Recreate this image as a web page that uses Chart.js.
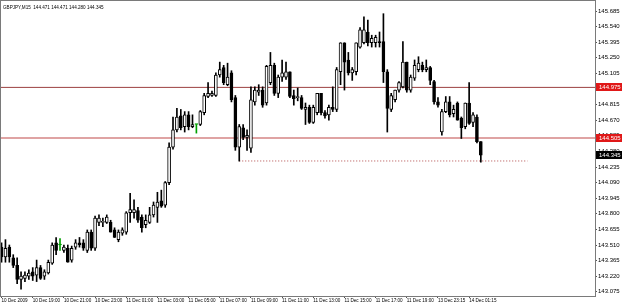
<!DOCTYPE html>
<html>
<head>
<meta charset="utf-8">
<script src="https://cdn.jsdelivr.net/npm/chart.js@4.4.0/dist/chart.umd.min.js"></script>
<style>
html, body { margin: 0; padding: 0; background: #fff; }
</style>
</head>
<body>
<canvas id="chart" width="625" height="305"></canvas>
<script>
// GBPJPY M15 candles (oldest first)
const symbolTitle = 'GBPJPY,M15  144.471 144.471 144.280 144.345';

const opens = [
  143.49, 143.40, 143.49, 143.39, 143.32, 143.19, 143.20, 143.22, 143.26, 143.23,
  143.30, 143.22, 143.25, 143.34, 143.53, 143.51, 143.46, 143.48, 143.37, 143.49,
  143.53, 143.53, 143.46, 143.63, 143.48, 143.72, 143.72, 143.72, 143.72, 143.65,
  143.56, 143.62, 143.63, 143.81, 143.81, 143.83, 143.77, 143.70, 143.72, 143.79,
  143.86, 143.92, 143.88, 144.09, 144.42, 144.58, 144.71, 144.61, 144.72, 144.61,
  144.63, 144.63, 144.74, 144.89, 144.90, 144.90, 145.09, 145.16, 145.00, 145.11,
  144.88, 144.42, 144.60, 144.51, 144.41, 144.84, 144.93, 144.95, 144.83, 145.02,
  145.18, 144.92, 145.07, 145.07, 145.12, 144.90, 144.88, 144.88, 144.77, 144.79,
  144.65, 144.74, 144.92, 144.74, 144.72, 144.79, 144.77, 145.12, 145.39, 145.23,
  145.11, 145.12, 145.35, 145.39, 145.49, 145.39, 145.39, 145.40, 145.40, 145.12,
  144.77, 144.86, 144.95, 144.98, 145.21, 144.95, 145.06, 145.14, 145.18, 145.14,
  145.16, 145.03, 144.84, 144.56, 144.75, 144.84, 144.73, 144.83, 144.69, 144.61,
  144.83, 144.65, 144.70, 144.471
];
const highs = [
  143.53, 143.56, 143.51, 143.42, 143.39, 143.26, 143.26, 143.28, 143.30, 143.37,
  143.32, 143.28, 143.37, 143.53, 143.58, 143.57, 143.51, 143.51, 143.50, 143.56,
  143.58, 143.56, 143.65, 143.65, 143.78, 143.79, 143.76, 143.79, 143.74, 143.67,
  143.65, 143.67, 143.82, 143.99, 143.93, 143.86, 143.79, 143.79, 143.86, 143.91,
  144.00, 144.02, 144.10, 144.46, 144.70, 144.78, 144.77, 144.75, 144.75, 144.72,
  144.63, 144.76, 144.92, 145.02, 144.94, 145.11, 145.21, 145.18, 145.20, 145.13,
  144.90, 144.63, 144.63, 144.58, 144.98, 144.98, 145.00, 144.98, 145.18, 145.30,
  145.20, 145.09, 145.23, 145.21, 145.12, 144.95, 144.97, 144.90, 144.83, 144.81,
  144.81, 144.92, 144.92, 144.76, 144.81, 144.98, 145.16, 145.39, 145.39, 145.30,
  145.16, 145.39, 145.53, 145.63, 145.60, 145.46, 145.46, 145.49, 145.66, 145.14,
  144.92, 144.95, 145.03, 145.40, 145.21, 145.09, 145.23, 145.26, 145.21, 145.23,
  145.17, 145.04, 144.88, 144.77, 144.89, 144.89, 144.81, 144.84, 144.70, 144.83,
  145.02, 144.74, 144.72, 144.471
];
const lows = [
  143.35, 143.35, 143.35, 143.30, 143.15, 143.10, 143.17, 143.19, 143.18, 143.17,
  143.19, 143.19, 143.24, 143.33, 143.42, 143.46, 143.44, 143.35, 143.35, 143.47,
  143.49, 143.46, 143.44, 143.46, 143.46, 143.69, 143.68, 143.71, 143.63, 143.58,
  143.54, 143.60, 143.61, 143.72, 143.76, 143.72, 143.63, 143.67, 143.71, 143.77,
  143.72, 143.86, 143.86, 144.07, 144.40, 144.56, 144.58, 144.56, 144.58, 144.60,
  144.55, 144.62, 144.72, 144.88, 144.89, 144.89, 145.07, 145.00, 144.99, 144.84,
  144.39, 144.29, 144.49, 144.39, 144.37, 144.81, 144.90, 144.79, 144.81, 145.00,
  144.90, 144.88, 145.03, 145.05, 144.88, 144.81, 144.85, 144.77, 144.63, 144.64,
  144.64, 144.72, 144.72, 144.69, 144.67, 144.75, 144.75, 145.00, 144.95, 145.09,
  145.04, 145.09, 145.34, 145.38, 145.36, 145.35, 145.35, 145.35, 145.02, 144.56,
  144.75, 144.84, 144.93, 144.97, 144.93, 144.93, 145.04, 145.12, 145.12, 145.12,
  145.00, 144.82, 144.79, 144.53, 144.74, 144.70, 144.70, 144.67, 144.50, 144.59,
  144.63, 144.61, 144.46, 144.280
];
const closes = [
  143.40, 143.48, 143.40, 143.32, 143.19, 143.22, 143.23, 143.25, 143.22, 143.30,
  143.20, 143.26, 143.35, 143.51, 143.46, 143.51, 143.49, 143.35, 143.48, 143.53,
  143.51, 143.48, 143.63, 143.48, 143.76, 143.76, 143.73, 143.77, 143.63, 143.58,
  143.63, 143.65, 143.81, 143.84, 143.84, 143.74, 143.67, 143.74, 143.79, 143.88,
  143.91, 143.87, 144.09, 144.42, 144.58, 144.70, 144.60, 144.72, 144.61, 144.63,
  144.63, 144.75, 144.90, 144.92, 144.92, 145.09, 145.14, 145.02, 145.07, 144.86,
  144.42, 144.61, 144.51, 144.53, 144.86, 144.95, 144.95, 144.81, 145.17, 145.18,
  144.92, 145.07, 145.11, 145.12, 144.89, 144.87, 144.89, 144.78, 144.79, 144.65,
  144.79, 144.92, 144.74, 144.71, 144.79, 144.77, 145.14, 145.39, 145.21, 145.11,
  145.14, 145.39, 145.51, 145.51, 145.39, 145.43, 145.44, 145.39, 145.12, 144.78,
  144.90, 144.95, 145.02, 145.21, 144.95, 145.07, 145.18, 145.20, 145.14, 145.16,
  145.04, 144.84, 144.81, 144.75, 144.84, 144.72, 144.77, 144.67, 144.60, 144.83,
  144.64, 144.72, 144.47, 144.345
];

// time axis labels, one every 8 bars
const timeTicks = [
  '10 Dec 2009', '10 Dec 19:00', '10 Dec 21:00', '10 Dec 23:00', '11 Dec 01:00',
  '11 Dec 03:00', '11 Dec 05:00', '11 Dec 07:00', '11 Dec 09:00', '11 Dec 11:00',
  '11 Dec 13:00', '11 Dec 15:00', '11 Dec 17:00', '11 Dec 19:00', '13 Dec 23:15',
  '14 Dec 01:15'
];
const priceTicks = [
  145.685, 145.540, 145.395, 145.250, 145.105, 144.960, 144.815, 144.670, 144.525,
  144.380, 144.235, 144.090, 143.945, 143.800, 143.655, 143.510, 143.365, 143.220,
  143.075
];

// horizontal levels
const upperLevel = 144.975;
const lowerLevel = 144.505;
const swingLow = 144.291;     // dotted line from bar 61
const swingLowStart = 61;
const swingLowEnd = 135;
const lastPrice = 144.345;

const bodies = opens.map((o, i) => ({ x: i, y: [o, closes[i]] }));
const wicks = lows.map((l, i) => ({ x: i, y: [l, highs[i]] }));
const bodyFill = opens.map((o, i) => closes[i] > o ? '#ffffff' : (closes[i] === o ? '#00a000' : '#000000'));
const candleLine = opens.map((o, i) => closes[i] === o ? '#00a000' : '#000000');

const mtOverlay = {
  id: 'mtOverlay',
  afterDraw(chart) {
    const { ctx, chartArea: a, scales: { y } } = chart;
    ctx.save();
    // frame
    ctx.strokeStyle = '#7a7a7a';
    ctx.lineWidth = 1;
    ctx.strokeRect(a.left + 0.5, 0.5, a.right - a.left, a.bottom);
    // symbol line
    ctx.fillStyle = '#000';
    ctx.font = '4.6px "Liberation Sans"';
    ctx.textBaseline = 'middle';
    ctx.fillText(symbolTitle, 3, 8);
    // price boxes on the axis
    const boxes = [[upperLevel, '#e01818'], [lowerLevel, '#e01818'], [lastPrice, '#000000']];
    ctx.font = '6px "Liberation Sans"';
    boxes.forEach(([v, bg]) => {
      const py = Math.round(y.getPixelForValue(v));
      ctx.fillStyle = bg;
      ctx.fillRect(a.right + 1, py - 4, 26, 8);
      ctx.fillStyle = '#fff';
      ctx.fillText(v.toFixed(3), a.right + 4, py + 0.5);
    });
    ctx.restore();
  }
};

new Chart(document.getElementById('chart'), {
  data: {
    datasets: [
      {
        type: 'bar',
        data: bodies,
        backgroundColor: bodyFill,
        borderColor: candleLine,
        borderWidth: 1,
        borderSkipped: false,
        barThickness: 3,
        minBarLength: 1,
        grouped: false,
        order: 1
      },
      {
        type: 'bar',
        data: wicks,
        backgroundColor: candleLine,
        borderWidth: 0,
        barThickness: 1,
        grouped: false,
        order: 2
      },
      {
        type: 'line',
        data: [{ x: -5, y: upperLevel }, { x: 160, y: upperLevel }],
        borderColor: '#9c4040',
        borderWidth: 1,
        pointRadius: 0,
        order: 3
      },
      {
        type: 'line',
        data: [{ x: -5, y: lowerLevel }, { x: 160, y: lowerLevel }],
        borderColor: '#dfa3a3',
        borderWidth: 2,
        pointRadius: 0,
        order: 3
      },
      {
        type: 'line',
        data: [{ x: swingLowStart, y: swingLow }, { x: swingLowEnd, y: swingLow }],
        borderColor: '#b04848',
        borderWidth: 1,
        borderDash: [1, 2],
        pointRadius: 0,
        order: 3
      }
    ]
  },
  options: {
    responsive: false,
    animation: false,
    layout: { padding: { left: 0, top: 1, right: 0, bottom: 0 } },
    plugins: { legend: { display: false }, tooltip: { enabled: false } },
    scales: {
      x: {
        type: 'linear',
        offset: false,
        min: -0.4,
        max: 152.3,
        bounds: 'data',
        grid: { offset: false, drawOnChartArea: false, drawTicks: true, tickLength: 2, color: '#555' },
        border: { display: false },
        ticks: {
          align: 'start',
          padding: 0,
          autoSkip: false,
          maxRotation: 0,
          color: '#000',
          font: { family: 'Liberation Sans', size: 4.6 },
          callback: (v, k) => timeTicks[k]
        },
        afterBuildTicks(scale) {
          scale.ticks = timeTicks.map((t, k) => ({ value: k * 8 }));
        },
        afterFit(scale) {
          scale.height = 9;
          scale.paddingLeft = 0;
          scale.paddingRight = 0;
        }
      },
      y: {
        position: 'right',
        min: 143.036,
        max: 145.778,
        bounds: 'data',
        grid: { drawOnChartArea: false, drawTicks: true, tickLength: 2, color: '#555' },
        border: { display: false },
        ticks: {
          padding: 1,
          autoSkip: false,
          color: '#000',
          font: { family: 'Liberation Sans', size: 6 },
          callback: v => v.toFixed(3)
        },
        afterBuildTicks(scale) {
          scale.ticks = priceTicks.map(v => ({ value: v }));
        },
        afterFit(scale) {
          scale.width = 30;
          scale.paddingTop = 0;
          scale.paddingBottom = 0;
        }
      }
    }
  },
  plugins: [mtOverlay]
});
</script>
</body>
</html>
